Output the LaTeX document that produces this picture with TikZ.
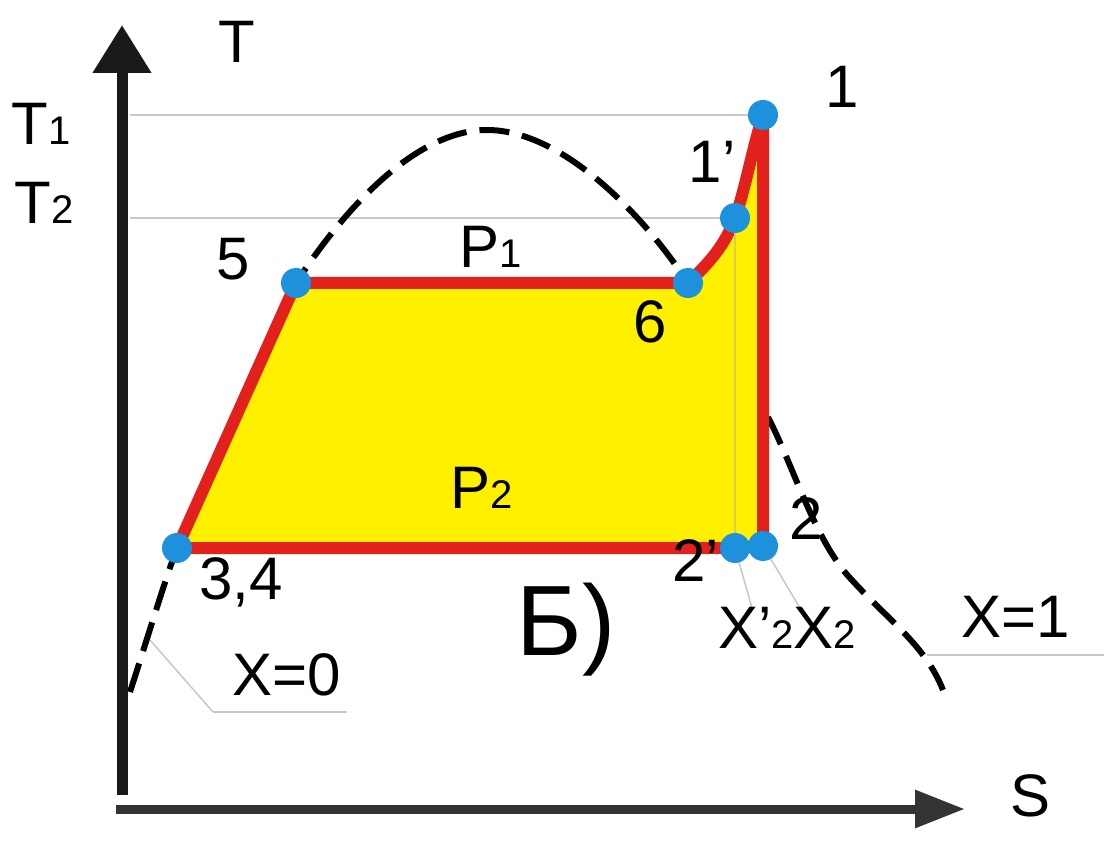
\documentclass[tikz,border=0pt]{standalone}
\usepackage{fontspec}
\setmainfont{Liberation Sans}
\usetikzlibrary{arrows.meta}
\definecolor{cred}{RGB}{226,32,28}
\definecolor{cyel}{RGB}{255,240,0}
\definecolor{cblue}{RGB}{30,145,220}
\definecolor{cgrid}{RGB}{200,200,200}
\newcommand{\sbs}[1]{{\fontsize{40}{40}\selectfont #1}}
\tikzset{
  lbl/.style={inner sep=0pt, font=\fontsize{60}{64}\selectfont},
  dotpt/.style={circle, fill=cblue, minimum size=30pt, inner sep=0pt},
  domeline/.style={line width=6pt, dash pattern=on 30pt off 13pt},
  cycleline/.style={line width=12pt, draw=cred, fill=cyel, line join=round},
  gridline/.style={line width=2pt, draw=cgrid},
  axisline/.style={line width=10pt}
}
\begin{document}
\begin{tikzpicture}[x=1pt,y=-1pt]
\useasboundingbox (0,0) rectangle (1104,842);
\fill[white] (0,0) rectangle (1104,842);
% state points
\coordinate (p1) at (763,115);
\coordinate (p1p) at (735,218);
\coordinate (p6) at (688,283);
\coordinate (p5) at (296,283);
\coordinate (p34) at (177,548);
\coordinate (p2p) at (735,548);
\coordinate (p2) at (763,546);
\coordinate (d0) at (130,692);
\coordinate (dtop) at (487,130);
\coordinate (dr0) at (768,417);
\coordinate (dr1) at (943,690);
% grid lines
\coordinate (g1a) at (130,115);
\coordinate (g2a) at (130,218);
\draw[gridline] (g1a) -- (p1);
\draw[gridline] (g2a) -- (p1p);
\coordinate (x1a) at (927,655);
\coordinate (x1b) at (1104,655);
\draw[gridline] (x1a) -- (x1b);
\coordinate (x0a) at (213,712);
\coordinate (x0b) at (347,712);
\coordinate (x0c) at (150,640);
\draw[gridline, line width=1.5pt] (x0c) -- (x0a);
\draw[gridline] (x0a) -- (x0b);
\coordinate (lx2p) at (752,608);
\coordinate (lx2) at (800,608);
\draw[gridline, line width=1.5pt] (p2p) -- (lx2p);
\draw[gridline, line width=1.5pt] (p2) -- (lx2);
% dome
\draw[domeline] (d0) .. controls (150,630) and (165,580) .. (p34) -- (p5)
  .. controls (350,200) and (420,130) .. (dtop)
  .. controls (560,130) and (640,210) .. (p6);
\draw[domeline] (dr0) .. controls (795,470) and (815,540) .. (850,578)
  .. controls (890,622) and (925,645) .. (dr1);
% cycle
\draw[cycleline] (p34) -- (p5) -- (p6) .. controls (710,262) and (725,245) .. (p1p)
  .. controls (745,190) and (752,150) .. (p1) -- (p2) -- (p2p) -- cycle;
\draw[line width=1.5pt, draw={rgb,255:red,215;green,205;blue,90}] (p1p) -- (p2p);
% axes
\coordinate (o1) at (122,795);
\coordinate (tT) at (122,25);
\coordinate (o2) at (116,809);
\coordinate (tS) at (965,809);
\draw[axisline, line width=11pt, black!90, -{Triangle[length=48pt,width=56pt]}] (o1) -- (tT);
\draw[axisline, line width=9pt, black!80, -{Triangle[length=50pt,width=36pt]}] (o2) -- (tS);
% dots
\foreach \p in {p1,p1p,p6,p5,p34,p2p,p2} \node[dotpt] at (\p) {};
% labels
\node[lbl] (lT) at (237,42) {T};
\node[lbl] (lS) at (1031,796) {S};
\node[lbl] (lT1) at (41,124) {T\sbs{1}};
\node[lbl] (lT2) at (44,203) {T\sbs{2}};
\node[lbl] (l5) at (233,259) {5};
\node[lbl] (l1) at (842,87) {1};
\node[lbl] (l1p) at (712,162) {1’};
\node[lbl] (lP1) at (491,247) {P\sbs{1}};
\node[lbl] (l6) at (650,322) {6};
\node[lbl] (lP2) at (482,488) {P\sbs{2}};
\node[lbl] (l34) at (241,582) {3,4};
\node[lbl] (lX0) at (287,675) {X=0};
\node[lbl, anchor=west] (l2p) at (672,561) {2’};
\node[lbl] (l2) at (806,519) {2};
\node[lbl] (lx) at (787,628) {X’\sbs{2}X\sbs{2}};
\node[lbl] (lX1) at (1016,617) {X=1};
\node[lbl, font=\fontsize{100}{110}\selectfont] (lB) at (566,630) {Б)};
\end{tikzpicture}
\end{document}
